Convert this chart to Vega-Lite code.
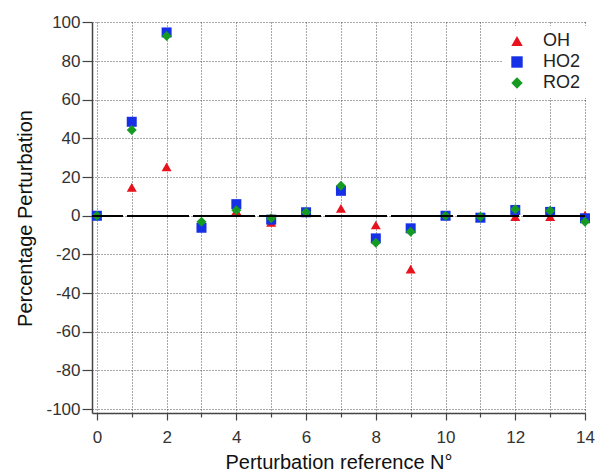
{
  "$schema": "https://vega.github.io/schema/vega-lite/v6.json",
  "autosize": {"type": "none"},
  "padding": {"left": 92, "top": 22, "right": 12, "bottom": 59},
  "width": 493,
  "height": 391,
  "background": "white",
  "config": {
    "view": {"stroke": null},
    "font": "Liberation Sans",
    "axis": {"labelFont": "Liberation Sans", "titleFont": "Liberation Sans"}
  },
  "data": {
    "values": [
      {"x": 0, "species": "OH", "value": 0},
      {"x": 1, "species": "OH", "value": 14.7},
      {"x": 2, "species": "OH", "value": 25.3},
      {"x": 3, "species": "OH", "value": -4},
      {"x": 4, "species": "OH", "value": 2.5},
      {"x": 5, "species": "OH", "value": -3.4},
      {"x": 6, "species": "OH", "value": 1.8},
      {"x": 7, "species": "OH", "value": 3.8},
      {"x": 8, "species": "OH", "value": -4.8},
      {"x": 9, "species": "OH", "value": -27.6},
      {"x": 10, "species": "OH", "value": 0},
      {"x": 11, "species": "OH", "value": -1},
      {"x": 12, "species": "OH", "value": -0.5},
      {"x": 13, "species": "OH", "value": -0.5},
      {"x": 14, "species": "OH", "value": 0.4},
      {"x": 0, "species": "HO2", "value": 0},
      {"x": 1, "species": "HO2", "value": 48.6},
      {"x": 2, "species": "HO2", "value": 94.8},
      {"x": 3, "species": "HO2", "value": -6.2},
      {"x": 4, "species": "HO2", "value": 6},
      {"x": 5, "species": "HO2", "value": -2},
      {"x": 6, "species": "HO2", "value": 1.8},
      {"x": 7, "species": "HO2", "value": 12.9},
      {"x": 8, "species": "HO2", "value": -11.7},
      {"x": 9, "species": "HO2", "value": -6.5},
      {"x": 10, "species": "HO2", "value": 0},
      {"x": 11, "species": "HO2", "value": -1},
      {"x": 12, "species": "HO2", "value": 3},
      {"x": 13, "species": "HO2", "value": 2},
      {"x": 14, "species": "HO2", "value": -1.3},
      {"x": 0, "species": "RO2", "value": 0},
      {"x": 1, "species": "RO2", "value": 44.3},
      {"x": 2, "species": "RO2", "value": 92.9},
      {"x": 3, "species": "RO2", "value": -3.1},
      {"x": 4, "species": "RO2", "value": 2.9},
      {"x": 5, "species": "RO2", "value": -1.3},
      {"x": 6, "species": "RO2", "value": 1.8},
      {"x": 7, "species": "RO2", "value": 15.5},
      {"x": 8, "species": "RO2", "value": -14},
      {"x": 9, "species": "RO2", "value": -8.3},
      {"x": 10, "species": "RO2", "value": 0},
      {"x": 11, "species": "RO2", "value": -0.5},
      {"x": 12, "species": "RO2", "value": 3.4},
      {"x": 13, "species": "RO2", "value": 2.6},
      {"x": 14, "species": "RO2", "value": -3.1}
    ]
  },
  "encoding": {
    "y": {
      "field": "value", "type": "quantitative",
      "scale": {"domain": [-102, 100.2], "nice": false, "zero": false},
      "axis": {
        "title": "Percentage Perturbation",
        "values": [-100,-80,-60,-40,-20,0,20,40,60,80,100],
        "labelExpr": "'' + datum.value",
        "labelOverlap": false, "labelFlush": false,
        "labelFontSize": 17, "labelColor": "#333", "labelPadding": 2,
        "tickSize": 10, "tickColor": "#444", "tickWidth": 1.2,
        "domainColor": "#444", "domainWidth": 1.5,
        "grid": true, "gridColor": "#333", "gridDash": [1, 2], "gridWidth": 1, "gridOpacity": 0.85,
        "titleFontSize": 20, "titleFontWeight": "normal", "titleColor": "#111",
        "titleX": -67, "titleY": 196, "titleAngle": -90, "titleAlign": "center", "titleBaseline": "middle"
      }
    }
  },
  "layer": [
    {
      "mark": {"type": "point", "filled": true, "opacity": 1, "size": 100},
      "encoding": {
        "x": {
          "field": "x", "type": "quantitative",
          "scale": {"domain": [-0.14, 14], "nice": false, "zero": false},
          "axis": {
            "title": "Perturbation reference N°",
            "values": [0,1,2,3,4,5,6,7,8,9,10,11,12,13,14],
            "labelExpr": "datum.value % 2 == 0 ? '' + datum.value : ''",
            "labelOverlap": false, "labelFlush": false,
            "labelFontSize": 17, "labelColor": "#333", "labelPadding": 9,
            "tickSize": {"condition": {"test": "datum.value % 2 == 1", "value": 4}, "value": 7},
            "tickColor": "#444", "tickWidth": 1.2,
            "domainColor": "#444", "domainWidth": 1.5,
            "grid": true, "gridColor": "#333", "gridDash": [1, 2], "gridWidth": 1, "gridOpacity": 0.85,
            "titleFontSize": 20, "titleFontWeight": "normal", "titleColor": "#111",
            "titleY": 49, "titleBaseline": "middle"
          }
        },
        "color": {
          "field": "species", "type": "nominal",
          "scale": {"domain": ["OH", "HO2", "RO2"], "range": ["#e8121c", "#1530e6", "#169a22"]},
          "legend": {
            "title": null, "orient": "none", "legendX": 410, "legendY": 4,
            "fillColor": "white", "padding": 6,
            "labelFontSize": 18, "labelColor": "#222", "labelOffset": 17,
            "rowPadding": 3, "symbolSize": 130
          }
        },
        "shape": {
          "field": "species", "type": "nominal",
          "scale": {"domain": ["OH", "HO2", "RO2"], "range": ["triangle-up", "square", "diamond"]},
          "legend": null
        }
      }
    },
    {
      "mark": {"type": "rule", "color": "black", "strokeWidth": 1.5, "strokeDash": [62, 4]},
      "encoding": {"y": {"datum": 0, "type": "quantitative"}}
    }
  ]
}
